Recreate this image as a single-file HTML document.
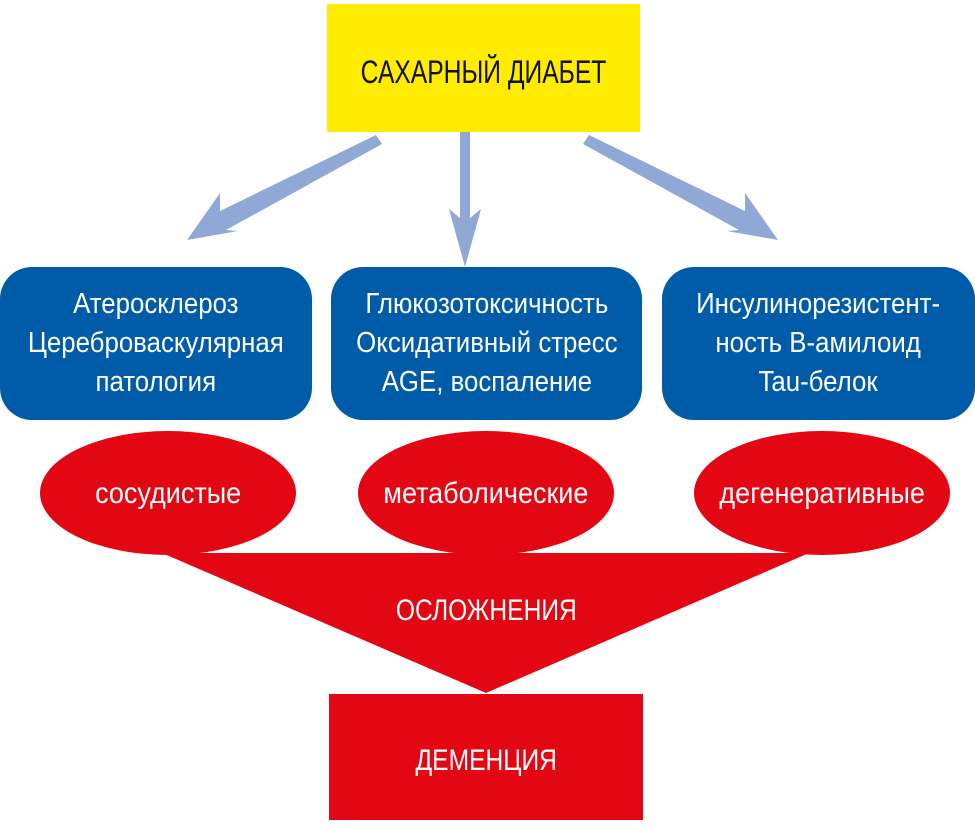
<!DOCTYPE html>
<html><head><meta charset="utf-8"><style>
body{margin:0;width:975px;height:828px;background:#fff;overflow:hidden;position:relative;font-family:"Liberation Sans",sans-serif;}
.t{position:absolute;display:flex;align-items:center;justify-content:center;text-align:center;}
.t span{display:inline-block;transform:scaleX(0.82);white-space:nowrap;}
.box{background:#005ca9;color:#fff;border-radius:32px;font-size:29px;line-height:39px;}
.box span{transform:scaleX(0.89);}
.el span{transform:scaleX(0.9);}
</style></head><body>
<svg width="975" height="828" style="position:absolute;left:0;top:0">
<rect x="327" y="4" width="313" height="128" fill="#ffec00"/>
<g fill="#8fa8d6" stroke="none">
<polygon points="460,132 470,132 470,218 481,209 465,267 449,209 460,218"/>
<polygon points="376,135 382,144 226,230 238,231 187,240 220,193 220,211"/>
<polygon points="589,135 583,144 739,230 727,231 778,240 745,193 745,211"/>
</g>
<ellipse cx="168" cy="493" rx="128" ry="62" fill="#e30613"/>
<ellipse cx="486" cy="493" rx="128" ry="62" fill="#e30613"/>
<ellipse cx="822" cy="493" rx="128" ry="62" fill="#e30613"/>
<polygon points="162,553 809,553 486,693" fill="#e30613"/>
<rect x="329" y="694" width="314" height="126" fill="#e30613"/>
</svg>
<div class="t" style="left:327px;top:4px;width:313px;height:136px;font-size:32px;color:#111"><span style="transform:scaleX(0.77)">САХАРНЫЙ ДИАБЕТ</span></div>
<div class="t box" style="left:0;top:267px;width:312px;height:153px"><span>Атеросклероз<br>Цереброваскулярная<br>патология</span></div>
<div class="t box" style="left:331px;top:267px;width:311px;height:153px"><span>Глюкозотоксичность<br>Оксидативный стресс<br>AGE, воспаление</span></div>
<div class="t box" style="left:662px;top:267px;width:313px;height:153px"><span>Инсулинорезистент-<br>ность B-амилоид<br>Tau-белок</span></div>
<div class="t el" style="left:40px;top:464px;width:256px;height:60px;color:#fff;font-size:30px"><span>сосудистые</span></div>
<div class="t el" style="left:358px;top:464px;width:256px;height:60px;color:#fff;font-size:30px"><span>метаболические</span></div>
<div class="t el" style="left:694px;top:464px;width:256px;height:60px;color:#fff;font-size:30px"><span>дегенеративные</span></div>
<div class="t" style="left:330px;top:586px;width:312px;height:50px;color:#fff;font-size:30px"><span>ОСЛОЖНЕНИЯ</span></div>
<div class="t" style="left:329px;top:736px;width:314px;height:50px;color:#fff;font-size:30px"><span>ДЕМЕНЦИЯ</span></div>
</body></html>
